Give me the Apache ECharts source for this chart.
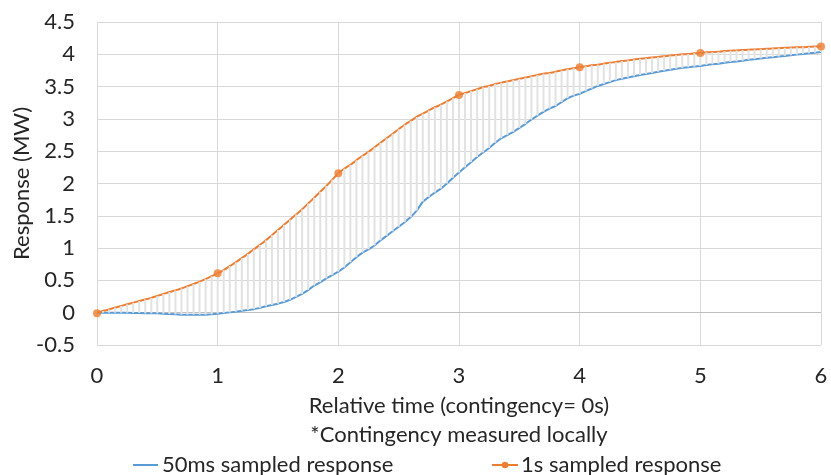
<!DOCTYPE html>
<html>
<head>
<meta charset="utf-8">
<script src="https://cdn.jsdelivr.net/npm/echarts@6/dist/echarts.min.js"></script>
<style>
html,body{margin:0;padding:0;background:#fff;}
#chart{width:831px;height:475px;}
</style>
</head>
<body>
<div id="chart"></div>
<script>
// Sample times (s), 50 ms grid
var time = [
0.00,0.05,0.10,0.15,0.20,0.25,0.30,0.35,0.40,0.45,0.50,0.55,0.60,0.65,0.70,0.75,0.80,0.85,0.90,0.95,
1.00,1.05,1.10,1.15,1.20,1.25,1.30,1.35,1.40,1.45,1.50,1.55,1.60,1.65,1.70,1.75,1.80,1.85,1.90,1.95,
2.00,2.05,2.10,2.15,2.20,2.25,2.30,2.35,2.40,2.45,2.50,2.55,2.60,2.65,2.70,2.75,2.80,2.85,2.90,2.95,
3.00,3.05,3.10,3.15,3.20,3.25,3.30,3.35,3.40,3.45,3.50,3.55,3.60,3.65,3.70,3.75,3.80,3.85,3.90,3.95,
4.00,4.05,4.10,4.15,4.20,4.25,4.30,4.35,4.40,4.45,4.50,4.55,4.60,4.65,4.70,4.75,4.80,4.85,4.90,4.95,
5.00,5.05,5.10,5.15,5.20,5.25,5.30,5.35,5.40,5.45,5.50,5.55,5.60,5.65,5.70,5.75,5.80,5.85,5.90,5.95,
6.00
];

// 50ms sampled response (MW)
var response50ms = [
0.00,0.00,0.00,0.00,0.00,0.00,-0.005,-0.005,-0.01,-0.01,-0.01,-0.015,-0.02,-0.025,-0.03,-0.03,-0.03,-0.03,-0.03,-0.025,
-0.015,-0.005,0.005,0.015,0.03,0.04,0.055,0.075,0.10,0.12,0.14,0.165,0.20,0.245,0.29,0.35,0.42,0.47,0.53,0.58,
0.635,0.70,0.78,0.86,0.93,0.98,1.04,1.12,1.19,1.26,1.33,1.40,1.48,1.58,1.72,1.79,1.86,1.92,2.00,2.09,
2.17,2.25,2.33,2.41,2.48,2.55,2.63,2.70,2.75,2.80,2.86,2.92,2.99,3.05,3.11,3.16,3.20,3.26,3.32,3.36,
3.39,3.43,3.47,3.51,3.54,3.57,3.60,3.62,3.64,3.66,3.68,3.695,3.71,3.73,3.745,3.76,3.775,3.79,3.80,3.81,
3.82,3.835,3.845,3.855,3.87,3.88,3.89,3.90,3.915,3.925,3.935,3.945,3.955,3.965,3.975,3.985,3.995,4.005,4.015,4.025,
4.035
];

// 1s sampled response curve as drawn (MW), read at the same 50 ms grid
var response1sCurve = [
0.00,0.025,0.05,0.08,0.105,0.13,0.155,0.18,0.205,0.23,0.26,0.29,0.32,0.345,0.375,0.41,0.445,0.48,0.52,0.565,
0.61,0.66,0.72,0.78,0.845,0.91,0.98,1.05,1.12,1.20,1.28,1.36,1.44,1.52,1.60,1.69,1.78,1.87,1.96,2.06,
2.16,2.23,2.29,2.36,2.43,2.49,2.56,2.63,2.70,2.77,2.84,2.91,2.97,3.03,3.08,3.13,3.18,3.22,3.27,3.32,
3.37,3.40,3.43,3.46,3.49,3.51,3.54,3.56,3.58,3.60,3.62,3.64,3.66,3.68,3.70,3.71,3.73,3.75,3.77,3.785,
3.80,3.815,3.83,3.84,3.855,3.87,3.88,3.895,3.905,3.92,3.93,3.94,3.95,3.96,3.97,3.98,3.99,4.00,4.005,4.015,
4.02,4.03,4.035,4.04,4.05,4.055,4.06,4.065,4.07,4.075,4.08,4.085,4.09,4.095,4.10,4.105,4.11,4.11,4.115,4.12,
4.12
];

// 1s samples (markers)
var time1s = [0, 1, 2, 3, 4, 5, 6];
var response1s = [-0.01, 0.61, 2.16, 3.37, 3.80, 4.02, 4.12];

var yTicks = { min: -0.5, max: 4.5, interval: 0.5 };
var xTicks = { min: 0, max: 6, interval: 1 };

var seriesNames = ['50ms sampled response', '1s sampled response'];
var xTitle = 'Relative time (contingency= 0s)\n*Contingency measured locally';
var yTitle = 'Response (MW)';

var blueData = time.map(function (t, i) { return [t, response50ms[i]]; });
var orangeCurve = time.map(function (t, i) { return [t, response1sCurve[i]]; });
var orangePts = time1s.map(function (t, i) { return [t, response1s[i]]; });
var dropData = time.map(function (t, i) { return [t, response50ms[i], response1sCurve[i]]; });

var FONT = 'Lato';
var TXT = '#262626';
var BLUE = '#5B9BD5';
var ORANGE = '#ED7D31';
var GRID = '#d9d9d9';

var chart = echarts.init(document.getElementById('chart'), null, { renderer: 'canvas' });
chart.setOption({
  animation: false,
  backgroundColor: '#ffffff',
  textStyle: { fontFamily: FONT, color: TXT },
  grid: { left: 97, right: 10, top: 22, bottom: 130, containLabel: false, outerBoundsMode: 'none' },
  legend: [
    {
      data: [{ name: seriesNames[0], icon: 'rect' }],
      left: 128, top: 449,
      itemWidth: 25, itemHeight: 2,
      textStyle: { fontFamily: FONT, fontSize: 22, color: TXT, padding: [0, 0, 0, -1] }
    },
    {
      data: [seriesNames[1]],
      left: 486, top: 449,
      itemWidth: 26, itemHeight: 8,
      textStyle: { fontFamily: FONT, fontSize: 22, color: TXT, padding: [0, 0, 0, -2] }
    }
  ],
  xAxis: {
    type: 'value',
    min: xTicks.min, max: xTicks.max, interval: xTicks.interval,
    name: xTitle,
    nameLocation: 'middle',
    nameGap: 47,
    nameMoveOverlap: false,
    nameTextStyle: { fontFamily: FONT, fontSize: 22, color: TXT, lineHeight: 28.5 },
    axisLine: { show: false },
    axisTick: { show: false },
    axisLabel: { fontFamily: FONT, fontSize: 22, color: TXT, margin: 20 },
    splitLine: { show: true, lineStyle: { color: GRID, width: 1 } }
  },
  yAxis: {
    type: 'value',
    min: yTicks.min, max: yTicks.max, interval: yTicks.interval,
    name: yTitle,
    nameLocation: 'middle',
    nameGap: 64,
    nameMoveOverlap: false,
    nameTextStyle: { fontFamily: FONT, fontSize: 22, color: TXT },
    axisLine: { show: false },
    axisTick: { show: false },
    axisLabel: { fontFamily: FONT, fontSize: 22, color: TXT, margin: 22 },
    splitLine: { show: true, lineStyle: { color: GRID, width: 1 } }
  },
  series: [
    {
      name: seriesNames[0],
      type: 'line',
      data: blueData,
      showSymbol: false,
      symbol: 'none',
      lineStyle: { color: BLUE, width: 2 },
      itemStyle: { color: BLUE },
      z: 2,
      markLine: {
        silent: true,
        symbol: 'none',
        label: { show: false },
        lineStyle: { color: '#bfbfbf', width: 1, type: 'solid' },
        data: [{ yAxis: 0 }],
        z: 1
      }
    },
    {
      name: seriesNames[1],
      type: 'line',
      data: orangeCurve,
      showSymbol: false,
      symbol: 'circle',
      smooth: 0.3,
      lineStyle: { color: ORANGE, width: 2 },
      itemStyle: { color: ORANGE },
      z: 2
    },
    {
      name: 'gap',
      type: 'custom',
      data: dropData,
      encode: { x: 0, y: [1, 2] },
      z: 3,
      silent: true,
      renderItem: function (params, api) {
        var x = api.value(0);
        var p1 = api.coord([x, api.value(1)]);
        var p2 = api.coord([x, api.value(2)]);
        return {
          type: 'line',
          shape: { x1: p1[0], y1: p1[1], x2: p2[0], y2: p2[1] },
          style: { stroke: '#e2e2e2', lineWidth: 2 }
        };
      }
    },
    {
      name: seriesNames[1],
      type: 'scatter',
      data: orangePts,
      symbol: 'circle',
      symbolSize: 8,
      itemStyle: { color: ORANGE },
      z: 4
    }
  ]
});
</script>
</body>
</html>
